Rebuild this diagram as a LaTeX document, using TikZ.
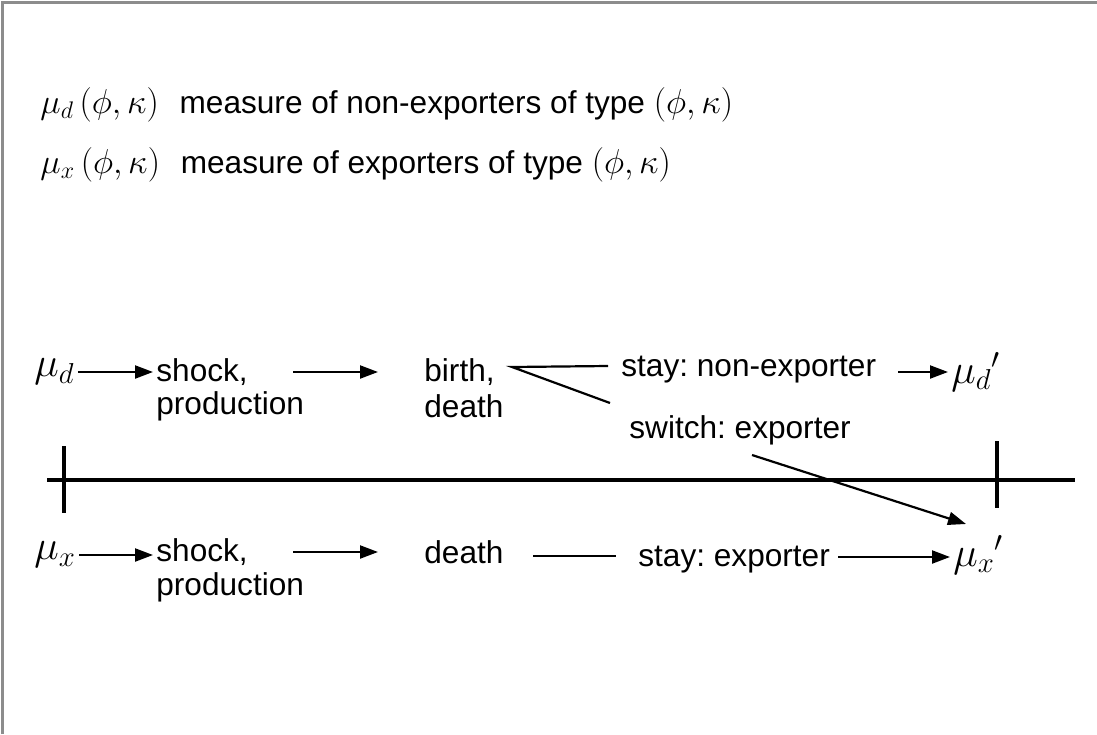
\documentclass[tikz,border=0pt]{standalone}
\usepackage{fontspec}
\setmainfont{Liberation Sans}
\frenchspacing
\usetikzlibrary{arrows.meta}
\newcommand{\pk}{\bigl(\phi,\kappa\bigr)}
\begin{document}
\begin{tikzpicture}[x=0.5pt,y=-0.5pt,
  lbl/.style={anchor=west,inner sep=1.5pt,font=\fontsize{15.8}{18}\selectfont},
  sym/.style={anchor=west,inner sep=1.5pt,font=\fontsize{20}{22}\selectfont},
  conn/.style={line width=1.1pt},
  arr/.style={line width=1.1pt,-{Triangle[length=9pt,width=6.5pt]}},
  axis/.style={line width=2.2pt},
  frame/.style={draw=black!45,line width=1.5pt}]
\useasboundingbox (0,0) rectangle (1097,734);
% frame edges
\draw[frame] (2,734) -- (2,2) -- (1097,2);

% definitions
\node[lbl] (defd) at (37,105) {{\fontsize{18}{20}\selectfont$\mu_d\,\pk$}\hspace{6pt} measure of non-exporters of type {\fontsize{18}{20}\selectfont$\pk$}};
\node[lbl] (defx) at (37,165) {{\fontsize{18}{20}\selectfont$\mu_x\,\pk$}\hspace{6pt} measure of exporters of type {\fontsize{18}{20}\selectfont$\pk$}};

% non-exporters row
\node[sym] (mud) at (31,372) {$\mu_d$};
\node[lbl] (shk1) at (153,372) {shock,};
\node[lbl] (prod1) at (153,406) {production};
\node[lbl] (birth) at (421,372) {birth,};
\node[lbl] (death1) at (421,406) {death};
\node[lbl] (stay1) at (618,370) {stay: non-exporter};
\node[sym] (mud2) at (948,372) {$\mu_d{}'$};
\node[lbl] (switch) at (626,430) {switch: exporter};

\coordinate (a2s) at (293,372);
\coordinate (a2e) at (378,372);
\coordinate (split) at (512,367);
\coordinate (stayend) at (608,366);
\coordinate (switchend) at (610,403);
\coordinate (a3s) at (898,372);
\coordinate (swstart) at (752,455);
\coordinate (swend) at (966,524);

\draw[arr] (mud.east) -- (mud.east -| shk1.west);
\draw[arr] (a2s) -- (a2e);
\draw[conn] (stayend) -- (split) -- (switchend);
\draw[arr] (a3s) -- (a3s -| mud2.west);

% time line
\coordinate (tl0) at (47,480);
\coordinate (tl1) at (1075,480);
\draw[axis] (tl0) -- (tl1);
\draw[axis] (64,446) -- (64,513);
\draw[axis] (997,441) -- (997,508);

% exporters row
\node[sym] (mux) at (31,555) {$\mu_x$};
\node[lbl] (shk2) at (153,552) {shock,};
\node[lbl] (prod2) at (153,587) {production};
\node[lbl] (death2) at (421,552) {death};
\node[lbl] (stay2) at (635,560) {stay: exporter};
\node[sym] (mux2) at (950,555) {$\mu_x{}'$};

\coordinate (b2s) at (293,552);
\coordinate (b2e) at (378,552);
\coordinate (ls) at (533,556);
\coordinate (le) at (616,556);
\coordinate (b3s) at (838,557);

\draw[arr] (mux.east) -- (mux.east -| shk2.west);
\draw[arr] (b2s) -- (b2e);
\draw[conn] (ls) -- (le);
\draw[arr] (b3s) -- (b3s -| mux2.west);
\draw[arr] (swstart) -- (swend);
\end{tikzpicture}
\end{document}
